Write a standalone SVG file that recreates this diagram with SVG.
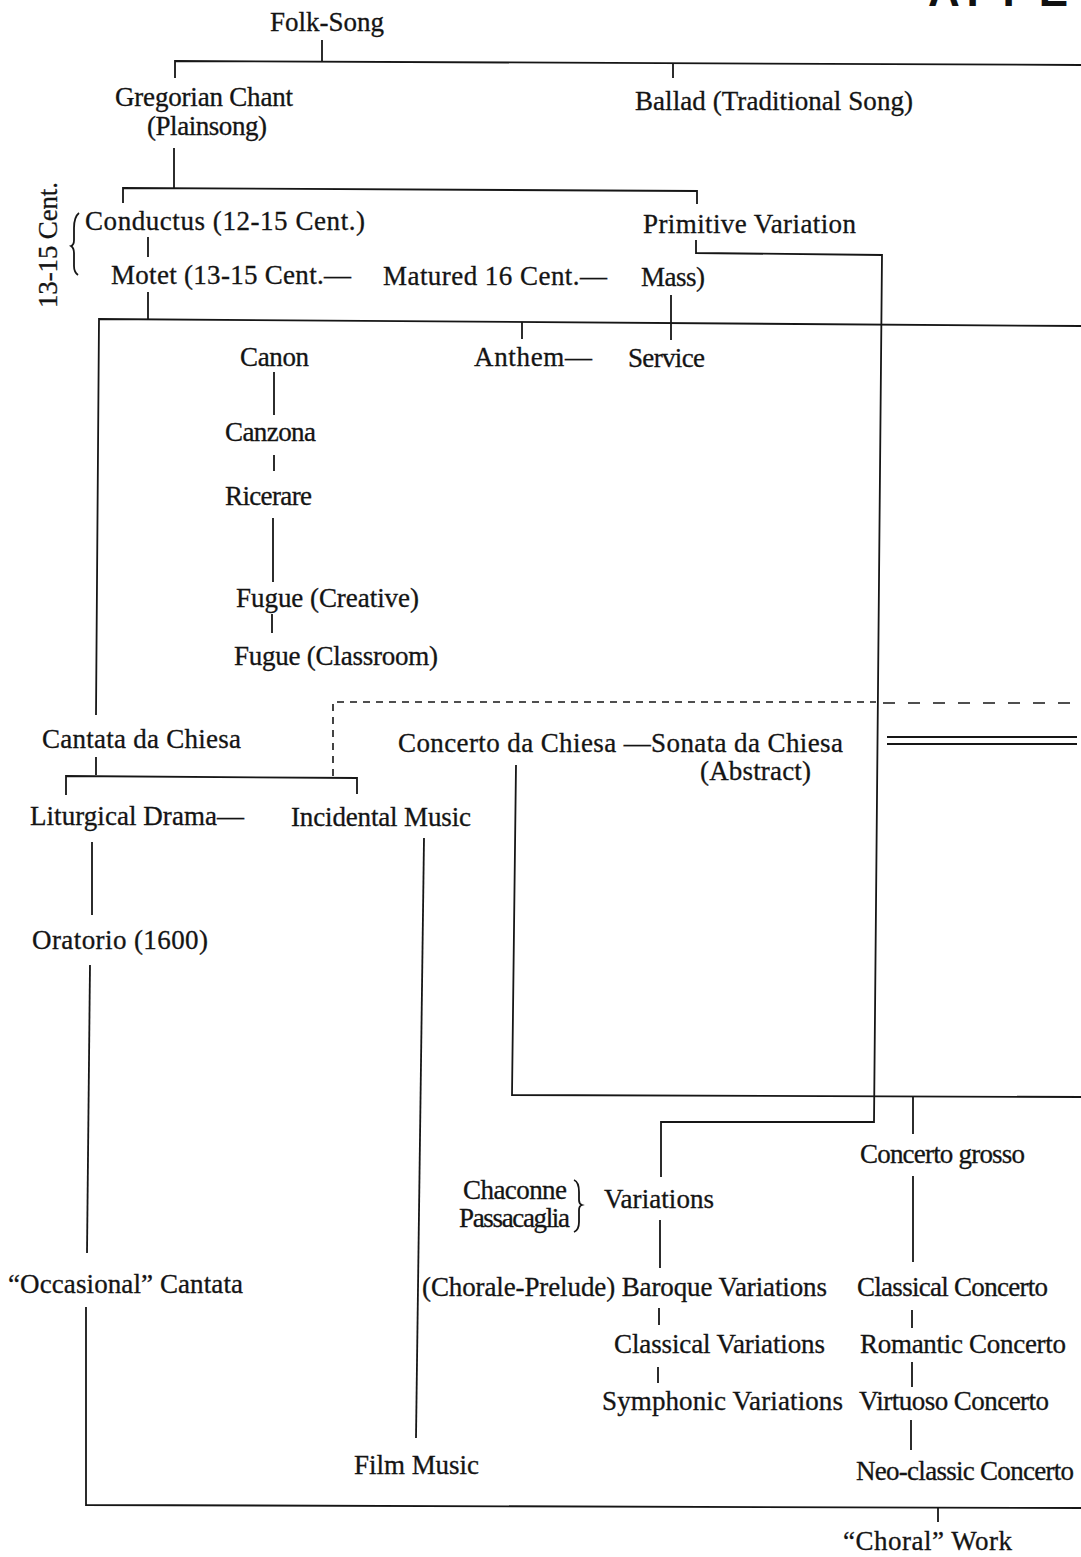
<svg xmlns="http://www.w3.org/2000/svg" width="1081" height="1557" viewBox="0 0 1081 1557">
<style>
.t{font-family:"Liberation Serif","Times New Roman",serif;font-size:27px;fill:#141414;stroke:#141414;stroke-width:0.3}
.c{stroke:#161616;stroke-width:1.8;fill:none}
.d1{stroke:#161616;stroke-width:1.6;fill:none;stroke-dasharray:7 6}
.d2{stroke:#161616;stroke-width:1.6;fill:none;stroke-dasharray:12 13}
.h{font-family:"Liberation Sans",Arial,sans-serif;font-weight:bold;font-size:44px;fill:#111}
</style>
<rect width="1081" height="1557" fill="#fff"/>
<text class="h" x="928" y="6" textLength="140">APPE</text>

<g id="connectors">
<path class="c" d="M322,40 V61"/>
<path class="c" d="M175,78 V61 L1081,65"/>
<path class="c" d="M673,63 V78"/>
<path class="c" d="M174,148 V188"/>
<path class="c" d="M123,203 V188 L697,191 V204"/>
<path class="c" d="M148,237 V257"/>
<path class="c" d="M148,292 V320"/>
<path class="c" d="M96,715 L99,319 L1081,326"/>
<path class="c" d="M522,322 V339"/>
<path class="c" d="M671,295 V340"/>
<path class="c" d="M696,240 V253 L882,255 L874,1122 L661,1122 V1177"/>
<path class="c" d="M274,372 V415"/>
<path class="c" d="M274,455 V471"/>
<path class="c" d="M273,518 V582"/>
<path class="c" d="M272,614 V633"/>
<path class="d1" d="M333,776 V702 H876"/>
<path class="d2" d="M883,703 H1081"/>
<path class="c" d="M96,757 V775"/>
<path class="c" d="M66,795 V776 L357,778 V794"/>
<path class="c" d="M887,737 L1077,737"/>
<path class="c" d="M887,744 L1077,744" stroke-width="1.4"/>
<path class="c" d="M516,765 L512,1095 L1081,1097"/>
<path class="c" d="M913,1097 V1134"/>
<path class="c" d="M913,1176 V1262"/>
<path class="c" d="M912,1310 V1328"/>
<path class="c" d="M912,1362 V1387"/>
<path class="c" d="M911,1420 V1450"/>
<path class="c" d="M660,1220 V1268"/>
<path class="c" d="M659,1308 V1325"/>
<path class="c" d="M658,1367 V1383"/>
<path class="c" d="M92,842 V915"/>
<path class="c" d="M90,965 L87,1253"/>
<path class="c" d="M86,1307 V1505 L1081,1508"/>
<path class="c" d="M424,838 L416,1438"/>
<path class="c" d="M938,1507 V1522"/>
<path class="c" stroke-width="1.3" d="M79,213 Q74,217 74,228 L74,240 Q74,245 71,246 Q74,248 74,253 L74,266 Q74,272 78,275"/>
<path class="c" stroke-width="1.3" d="M574,1180 Q579,1182 579,1192 L579,1200 Q579,1204 582,1205 Q579,1206 579,1210 L579,1222 Q579,1230 574,1232"/>
</g>

<g id="folk-song"><text class="t" x="270" y="31" textLength="114">Folk-Song</text></g>
<g id="gregorian-chant"><text class="t" x="115" y="106" textLength="178">Gregorian Chant</text><text class="t" x="147" y="135" textLength="120">(Plainsong)</text></g>
<g id="ballad"><text class="t" x="635" y="110" textLength="278">Ballad (Traditional Song)</text></g>
<g id="period-label"><text class="t" transform="translate(57,308) rotate(-90)" x="0" y="0" textLength="126">13-15 Cent.</text></g>
<g id="conductus"><text class="t" x="85" y="230" textLength="280">Conductus (12-15 Cent.)</text></g>
<g id="primitive-variation"><text class="t" x="643" y="233" textLength="213">Primitive Variation</text></g>
<g id="motet"><text class="t" x="111" y="284" textLength="240">Motet (13-15 Cent.—</text></g>
<g id="matured"><text class="t" x="383" y="285" textLength="224">Matured 16 Cent.—</text></g>
<g id="mass"><text class="t" x="641" y="286" textLength="64">Mass)</text></g>
<g id="canon"><text class="t" x="240" y="366" textLength="69">Canon</text></g>
<g id="anthem"><text class="t" x="474" y="366" textLength="118">Anthem—</text></g>
<g id="service"><text class="t" x="628" y="367" textLength="77">Service</text></g>
<g id="canzona"><text class="t" x="225" y="441" textLength="91">Canzona</text></g>
<g id="ricerare"><text class="t" x="225" y="505" textLength="87">Ricerare</text></g>
<g id="fugue-creative"><text class="t" x="236" y="607" textLength="183">Fugue (Creative)</text></g>
<g id="fugue-classroom"><text class="t" x="234" y="665" textLength="204">Fugue (Classroom)</text></g>
<g id="cantata-da-chiesa"><text class="t" x="42" y="748" textLength="199">Cantata da Chiesa</text></g>
<g id="concerto-da-chiesa"><text class="t" x="398" y="752" textLength="445">Concerto da Chiesa —Sonata da Chiesa</text><text class="t" x="700" y="780" textLength="111">(Abstract)</text></g>
<g id="liturgical-drama"><text class="t" x="30" y="825" textLength="214">Liturgical Drama—</text></g>
<g id="incidental-music"><text class="t" x="291" y="826" textLength="180">Incidental Music</text></g>
<g id="oratorio"><text class="t" x="32" y="949" textLength="176">Oratorio (1600)</text></g>
<g id="concerto-grosso"><text class="t" x="860" y="1163" textLength="165">Concerto grosso</text></g>
<g id="chaconne"><text class="t" x="463" y="1199" textLength="104">Chaconne</text><text class="t" x="459" y="1227" textLength="111">Passacaglia</text></g>
<g id="variations"><text class="t" x="604" y="1208" textLength="110">Variations</text></g>
<g id="occasional-cantata"><text class="t" x="8" y="1293" textLength="235">“Occasional” Cantata</text></g>
<g id="baroque-variations"><text class="t" x="422" y="1296" textLength="405">(Chorale-Prelude) Baroque Variations</text></g>
<g id="classical-concerto"><text class="t" x="857" y="1296" textLength="191">Classical Concerto</text></g>
<g id="classical-variations"><text class="t" x="614" y="1353" textLength="211">Classical Variations</text></g>
<g id="romantic-concerto"><text class="t" x="860" y="1353" textLength="206">Romantic Concerto</text></g>
<g id="symphonic-variations"><text class="t" x="602" y="1410" textLength="241">Symphonic Variations</text></g>
<g id="virtuoso-concerto"><text class="t" x="859" y="1410" textLength="190">Virtuoso Concerto</text></g>
<g id="neo-classic-concerto"><text class="t" x="856" y="1480" textLength="218">Neo-classic Concerto</text></g>
<g id="film-music"><text class="t" x="354" y="1474" textLength="125">Film Music</text></g>
<g id="choral-work"><text class="t" x="843" y="1550" textLength="169">“Choral” Work</text></g>
</svg>
